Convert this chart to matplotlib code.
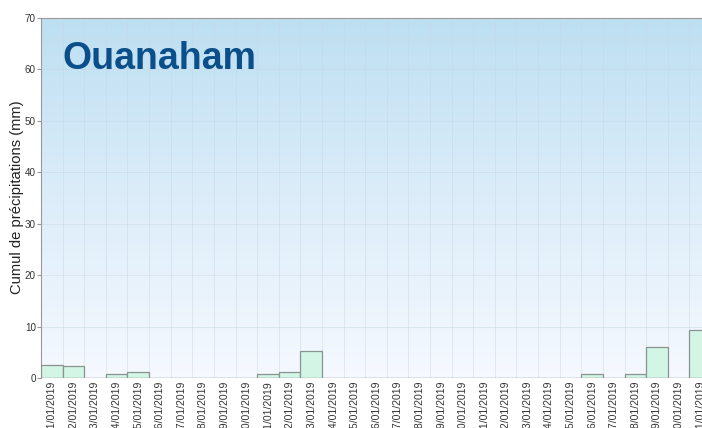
import numpy as np
import matplotlib
matplotlib.use("Agg")
import matplotlib.pyplot as plt
from matplotlib.colors import LinearSegmentedColormap

days = [f"{d:02d}/01/2019" for d in range(1, 32)]
rain = [2.6, 2.4, 0.0, 0.7, 1.1, 0.0, 0.0, 0.0, 0.0, 0.0,
        0.7, 1.1, 5.2, 0.0, 0.0, 0.0, 0.0, 0.0, 0.0, 0.0,
        0.0, 0.0, 0.0, 0.0, 0.0, 0.7, 0.0, 0.7, 6.0, 0.0, 9.4]
yticks = [0, 10, 20, 30, 40, 50, 60, 70]
title = "Ouanaham"
ylabel = "Cumul de précipitations (mm)"

plt.rcParams['font.family'] = ['Liberation Sans', 'DejaVu Sans']

W, H = 702, 428
fig = plt.figure(figsize=(W / 100, H / 100), dpi=100)
left, right, top, bottom = 41, 711, 18, 378
ax = fig.add_axes([left / W, (H - bottom) / H, (right - left) / W, (bottom - top) / H])

x = np.arange(len(days))
ax.set_xlim(-0.5, len(days) - 0.5)
ax.set_ylim(0, 70)

# gradient background
cmap = LinearSegmentedColormap.from_list("bg", ["#f6f9ff", "#dcedf9", "#bddff2"])
grad = np.linspace(0, 1, 256).reshape(-1, 1)
ax.imshow(grad, aspect="auto", cmap=cmap, origin="lower",
          extent=[0, 1, 0, 1], transform=ax.transAxes, zorder=0)

ax.bar(x, rain, width=1.0, color="#d2f5e6", edgecolor="#8a948f", linewidth=0.9, zorder=3)

ax.set_yticks(yticks)
ax.set_xticks(x)
ax.set_xticklabels(days, rotation=90, fontsize=7.6, color="#333333", va="top")
ax.set_xticks(np.arange(len(days) + 1) - 0.5, minor=True)
ax.tick_params(axis="x", which="both", length=0, pad=2)
ax.tick_params(axis="y", length=2.9, color="#999999", labelsize=7.1, labelcolor="#333333", pad=0.8)
ax.grid(axis="x", which="minor", color="#c8d6e2", linewidth=0.6, alpha=0.55, zorder=1)
ax.grid(axis="y", which="major", color="#c8d6e2", linewidth=0.6, alpha=0.55, zorder=1)
ax.set_axisbelow(True)

for s in ["right", "bottom"]:
    ax.spines[s].set_visible(False)
ax.spines["top"].set_color("#999999")
ax.spines["left"].set_color("#999999")
ax.spines["top"].set_linewidth(0.8)
ax.spines["left"].set_linewidth(0.8)
ax.axhline(0, color="#999999", linewidth=0.9, zorder=4)

ax.set_ylabel(ylabel, fontsize=10.6, color="#222222")
ax.yaxis.set_label_coords(-17 / (right - left), (378 - 197.5) / (bottom - top))
ax.text(22 / (right - left), 0.885, title, transform=ax.transAxes,
        fontsize=27, fontweight="bold", color="#0b4f8a", va="center", ha="left", zorder=5)

fig.savefig("out.png", dpi=100)
